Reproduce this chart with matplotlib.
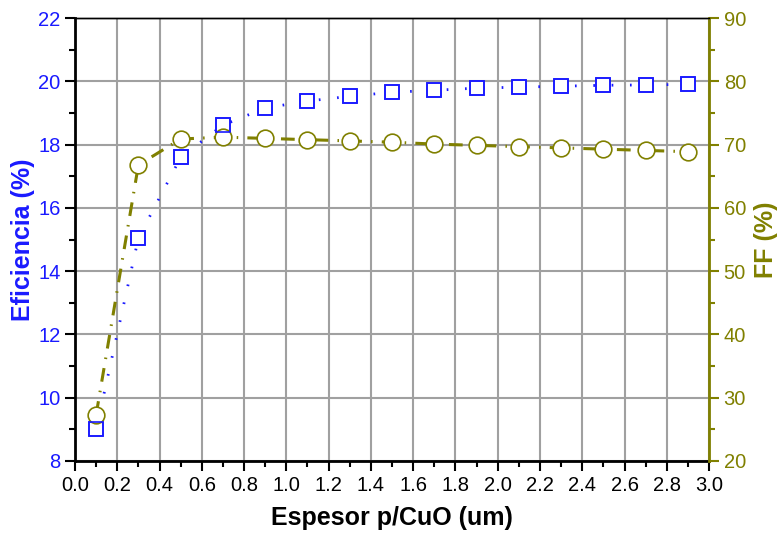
import numpy as np
import matplotlib.pyplot as plt
from matplotlib.ticker import MultipleLocator

plt.rcParams['font.family'] = ['Liberation Sans', 'DejaVu Sans']

# espesor de la capa p/CuO (um)
espesor = [0.1, 0.3, 0.5, 0.7, 0.9, 1.1, 1.3, 1.5, 1.7, 1.9, 2.1, 2.3, 2.5, 2.7, 2.9]
eficiencia = [9.0, 15.05, 17.6, 18.62, 19.16, 19.38, 19.53, 19.66, 19.72, 19.79,
              19.82, 19.85, 19.88, 19.89, 19.91]
ff = [27.3, 66.8, 70.9, 71.2, 71.0, 70.8, 70.6, 70.4, 70.1, 69.9,
      69.7, 69.5, 69.3, 69.1, 68.9]

BLUE = '#1a1aff'
OLIVE = '#808000'

fig = plt.figure(figsize=(7.78, 5.36), dpi=100)
ax = fig.add_axes([0.0964, 0.140, 0.815, 0.826])
ax2 = ax.twinx()

# eficiencia: linea punteada, cuadros con fondo blanco para cortar la linea
ax.plot(espesor, eficiencia, linestyle=(0, (0.6, 6)), color=BLUE, lw=2,
        marker='s', ms=10, mfc='white', mec=BLUE, mew=1.2, zorder=3)
# FF: linea de trazos, circulos con fondo blanco
ax2.plot(espesor, ff, linestyle=(0, (4.5, 3, 0.5, 3)), color=OLIVE, lw=2.2,
         marker='o', ms=12, mfc='white', mec=OLIVE, mew=1.2, zorder=3)
# bordes de los cuadros otra vez, encima de los circulos
ax2.plot(espesor, eficiencia, linestyle='none', transform=ax.transData,
         marker='s', ms=10, mfc='none', mec=BLUE, mew=1.2, zorder=4)

ax.set_xlim(0, 3.0)
ax.set_ylim(8, 22)
ax2.set_ylim(20, 90)

ax.xaxis.set_minor_locator(MultipleLocator(0.1))
ax.yaxis.set_major_locator(MultipleLocator(2))
ax.yaxis.set_minor_locator(MultipleLocator(1))
ax2.yaxis.set_major_locator(MultipleLocator(10))
ax2.yaxis.set_minor_locator(MultipleLocator(5))
xt = np.round(np.arange(0, 3.01, 0.2), 1)
ax.set_xticks(xt)
ax.set_xticklabels([f'{v:.1f}' for v in xt])

ax.grid(True, which='major', color='#a0a0a0', lw=1.5)
ax.set_axisbelow(True)

ax.tick_params(axis='x', which='major', direction='out', length=7, width=1.5,
               labelsize=14.5, colors='black')
ax.tick_params(axis='x', which='minor', direction='out', length=4, width=1.5)
ax.tick_params(axis='y', which='major', direction='out', length=7, width=1.5,
               labelsize=14.5, labelcolor=BLUE, color='black')
ax.tick_params(axis='y', which='minor', direction='out', length=4, width=1.5)
ax2.tick_params(axis='y', which='major', direction='out', length=7, width=1.5,
                labelsize=14.5, labelcolor=OLIVE, color=OLIVE)
ax2.tick_params(axis='y', which='minor', direction='out', length=4, width=1.5,
                color=OLIVE)

for side in ['left', 'bottom']:
    ax.spines[side].set_linewidth(2)
ax.spines['top'].set_linewidth(1)
ax2.spines['right'].set_color(OLIVE)
ax2.spines['right'].set_linewidth(2)
ax2.spines['left'].set_visible(False)
ax2.spines['top'].set_linewidth(1)
ax2.spines['bottom'].set_visible(False)

ax.set_xlabel('Espesor p/CuO (um)', fontsize=18, fontweight='bold', labelpad=8)
ax.set_ylabel('Eficiencia (%)', fontsize=18, fontweight='bold', color=BLUE,
              labelpad=2)
ax2.set_ylabel('FF (%)', fontsize=18, fontweight='bold', color=OLIVE, labelpad=6)

fig.savefig('out.png', dpi=100)
